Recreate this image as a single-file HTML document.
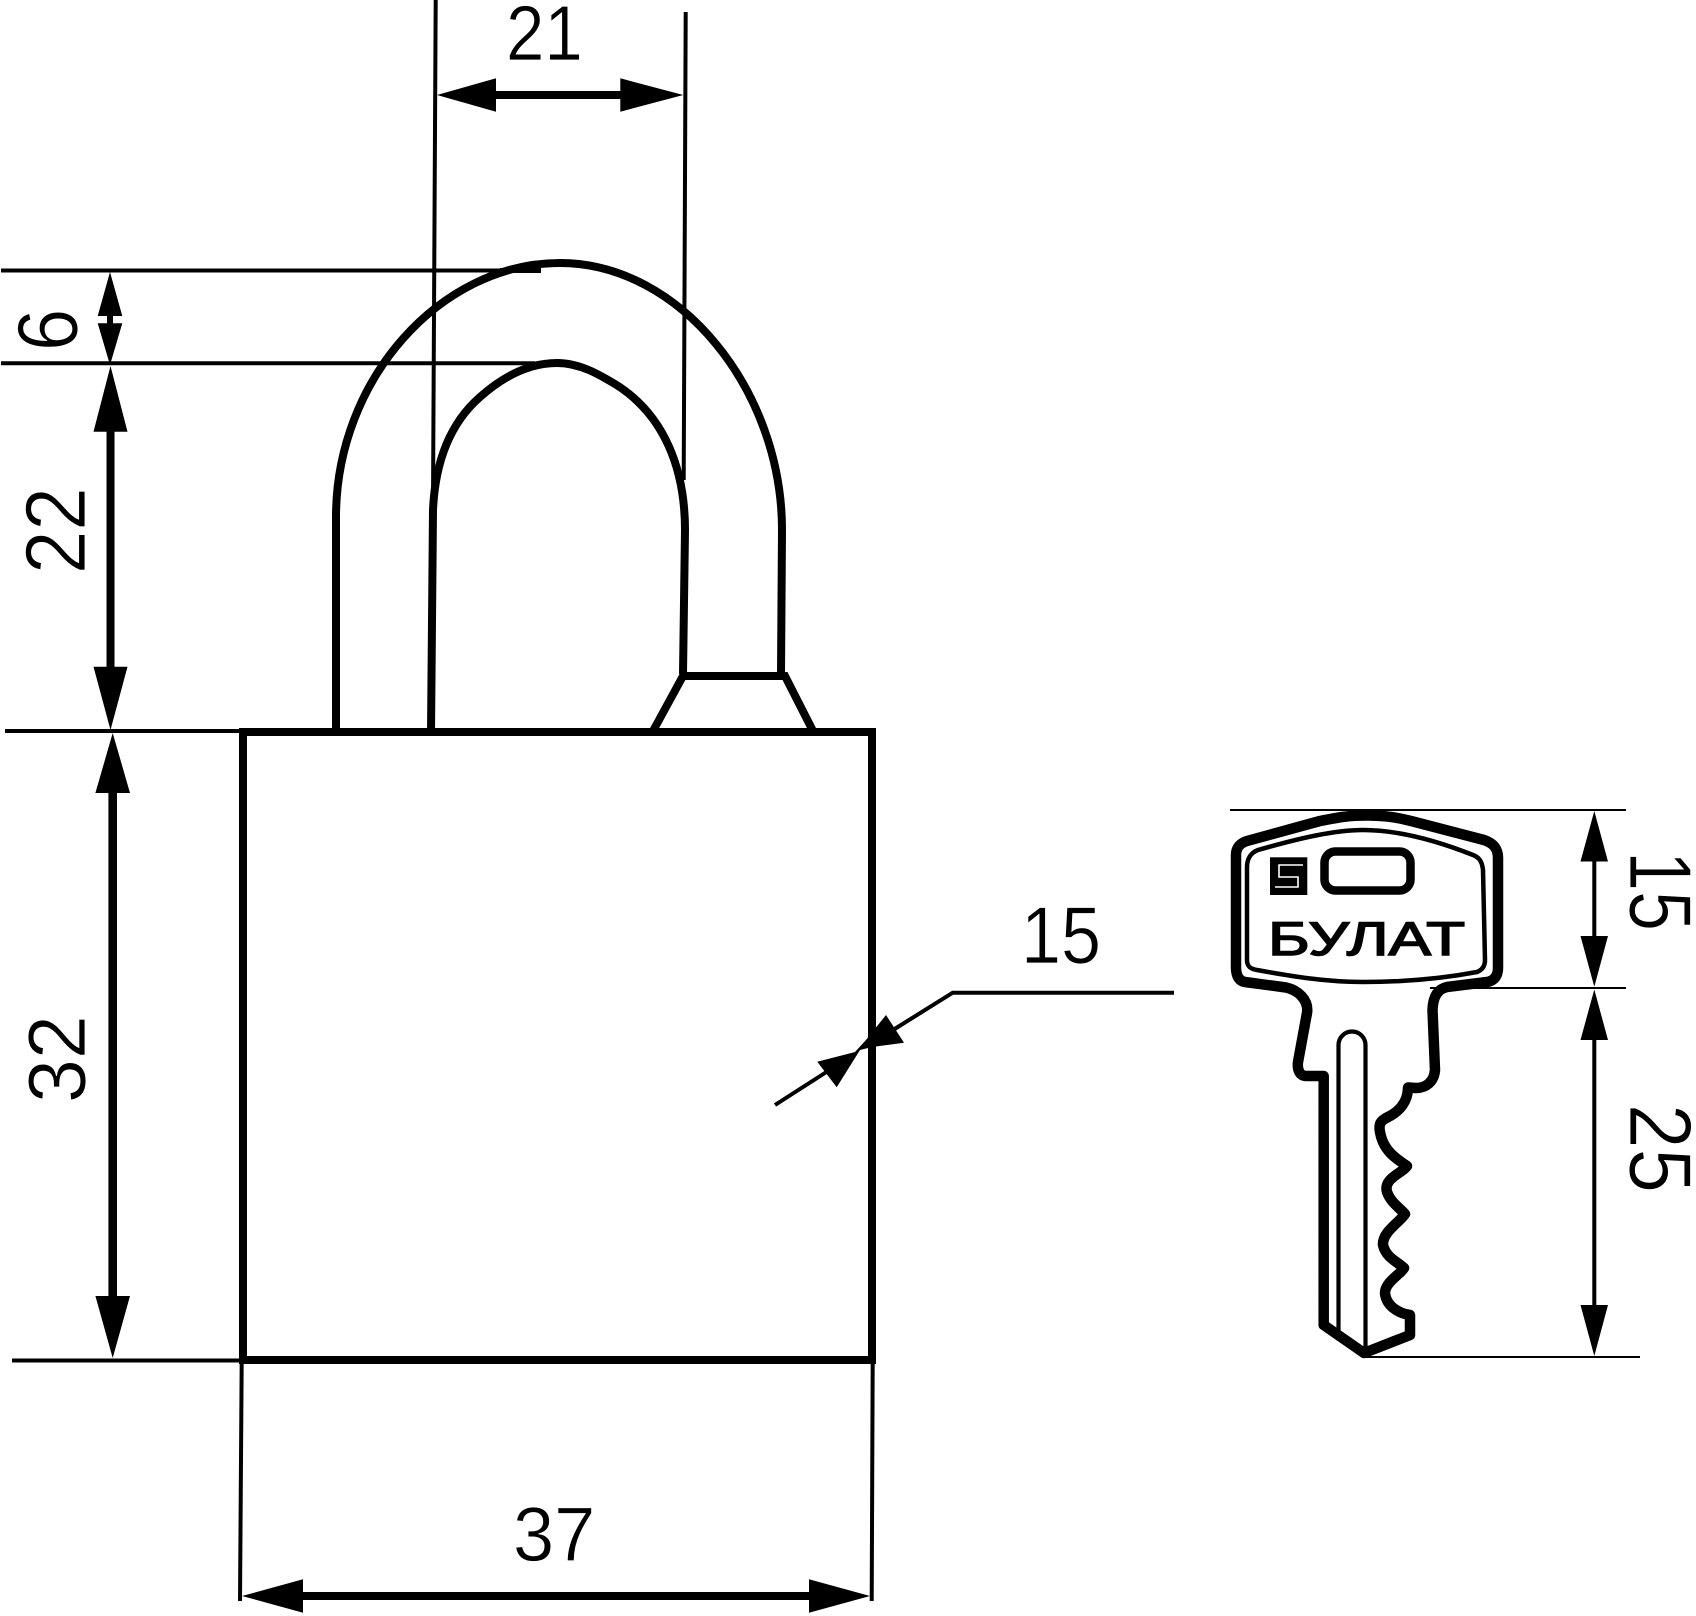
<!DOCTYPE html>
<html><head><meta charset="utf-8"><style>
html,body{margin:0;padding:0;background:#fff}
svg{display:block}
text{font-family:"Liberation Sans",sans-serif;fill:#000}
.n{stroke:#fff;stroke-width:1}
</style></head><body>
<svg width="1696" height="1616" viewBox="0 0 1696 1616" xmlns="http://www.w3.org/2000/svg">
<rect width="1696" height="1616" fill="#fff"/>
<!-- extension lines -->
<g stroke="#000" stroke-width="4" fill="none">
<path d="M435.7 0L433 500"/>
<path d="M685.7 12L683.7 480"/>
<path d="M1 270.5H541"/>
<path d="M1 363.3H535"/>
<path d="M5 731H243"/>
<path d="M12 1360.5H243"/>
<path d="M241.7 1360L240 1601"/>
<path d="M872.7 1360L871.7 1601"/>
</g>
<path d="M500 268H541V273H500Z" fill="#000"/>
<!-- lock body -->
<rect x="243" y="732" width="629" height="628" fill="none" stroke="#000" stroke-width="8"/>
<g stroke="#000" stroke-width="8" fill="none">
<path d="M336 732V517C336 380 440 263 560 263C680 263 782 390 782 530L781 674"/>
<path d="M431 733L433 510C435 465 448 425 480 397C498 381 525 363 557 363C580 363 600 375 615 384C665 415 685 470 685 530L683 674"/>
<path d="M653 731L683 676H785L813 731"/>
</g>
<!-- dimension arrows -->
<g fill="#000">
<path d="M437 95L496 78.3V91H620.3V78.3L683.3 95L620.3 111.7V99H496V111.7Z"/>
<path d="M242 1596L303 1579.3V1592H809V1579.3L870 1596L809 1612.7V1600H303V1612.7Z"/>
<path d="M110.5 366L127.5 431.7H114.5V666.7H127.5L110.5 730L93.5 666.7H106.5V431.7H93.5Z"/>
<path d="M112.7 733L130 793H117V1296H130L112.7 1358L95.4 1296H108.4V793H95.4Z"/>
<path d="M110 272L122.3 316H113V323.3H122.3L110 365L97.7 323.3H107V316H97.7Z"/>
<path d="M1594.3 811L1608 861.5H1596.3V936H1608L1594.3 986.7L1580.5 936H1592.3V861.5H1580.5Z"/>
<path d="M1594.3 989.5L1608 1040H1596.3V1305H1608L1594.3 1356L1580.5 1305H1592.3V1040H1580.5Z"/>
<!-- wall thickness arrows -->
<path d="M886 1015L904 1042.7L872 1047L860 1050L836.7 1087.3L817.3 1061.7L855 1052L866 1040Z"/>
</g>
<g stroke="#000" stroke-width="4" fill="none">
<path d="M1174 992.7H952.7L893 1030"/>
<path d="M775 1105L828 1071"/>
</g>
<!-- key extension lines -->
<g stroke="#000" stroke-width="2" fill="none">
<path d="M1230 810H1626"/>
<path d="M1430 988H1626"/>
<path d="M1363 1357H1640"/>
</g>
<!-- key -->
<g fill="none" stroke="#000" stroke-linejoin="round">
<path stroke-width="10.5" d="M1323.7 1076H1306C1300 1076 1297 1070 1298 1062L1307 1013C1309 1000 1298 990 1286 987.5L1245 982C1239 981 1236 976 1236 967V855C1236 848 1240 843 1247 841L1320 821C1340 817 1350 815.5 1366 815.5C1385 815.5 1395 817 1413 821.5L1484 840C1493 843 1498 848 1498 858V968C1498 976 1494 981 1487 982L1447 987C1438 989 1433 996 1432.5 1010L1435 1070C1434 1082 1426 1088 1416 1088L1408 1087.5C1408 1102 1399 1111 1390 1116C1382 1120 1378 1122 1380 1132C1383 1150 1395 1158 1407 1166C1403 1173 1383 1178 1387 1192C1391 1203 1400 1208 1405 1214C1400 1222 1382 1232 1383 1245C1386 1258 1398 1262 1404 1268C1401 1274 1385 1282 1385 1293C1386 1305 1397 1313 1410 1315V1335L1364 1353L1323.7 1325V1076Z"/>
<path stroke-width="4.5" d="M1363 830C1335 830 1300 838 1258 850C1250 853 1247 860 1247 867V960C1247 966 1250 969 1257 970C1290 976 1325 982 1363 982C1400 982 1440 979 1477 972C1482 970 1485 966 1485 960L1483 870C1482 860 1478 857 1473 855C1430 838 1395 830 1363 830Z"/>
<path stroke-width="4.2" d="M1338.5 1331V1045A13.5 13.5 0 0 1 1365.5 1045V1356"/>
</g>
<!-- logo -->
<rect x="1270" y="857.3" width="37.3" height="37.7" fill="#000"/>
<path d="M1303 865H1279V877H1298V887H1275" fill="none" stroke="#fff" stroke-width="1.6"/>
<rect x="1324.5" y="851.5" width="86" height="39" rx="11" fill="none" stroke="#000" stroke-width="8.5"/>
<text x="1268" y="955" font-size="47" stroke="#000" stroke-width="1.5" textLength="197" lengthAdjust="spacingAndGlyphs">БУЛАТ</text>
<!-- dimension numbers -->
<text class="n" font-size="100" transform="translate(506,60) scale(0.69,0.78)">21</text>
<text class="n" font-size="100" transform="translate(513,1561) scale(0.74,0.77)">37</text>
<text class="n" font-size="100" transform="translate(1021,963) scale(0.72,0.81)">15</text>
<text class="n" font-size="100" transform="translate(77,351) rotate(-90) scale(0.76,0.85)">6</text>
<text class="n" font-size="100" transform="translate(85,574) rotate(-90) scale(0.78,0.85)">22</text>
<text class="n" font-size="100" transform="translate(85,1103) rotate(-90) scale(0.79,0.82)">32</text>
<text class="n" font-size="100" transform="translate(1630,851) rotate(90) scale(0.72,0.88)">15</text>
<text class="n" font-size="100" transform="translate(1630,1104) rotate(90) scale(0.80,0.88)">25</text>
</svg>
</body></html>
